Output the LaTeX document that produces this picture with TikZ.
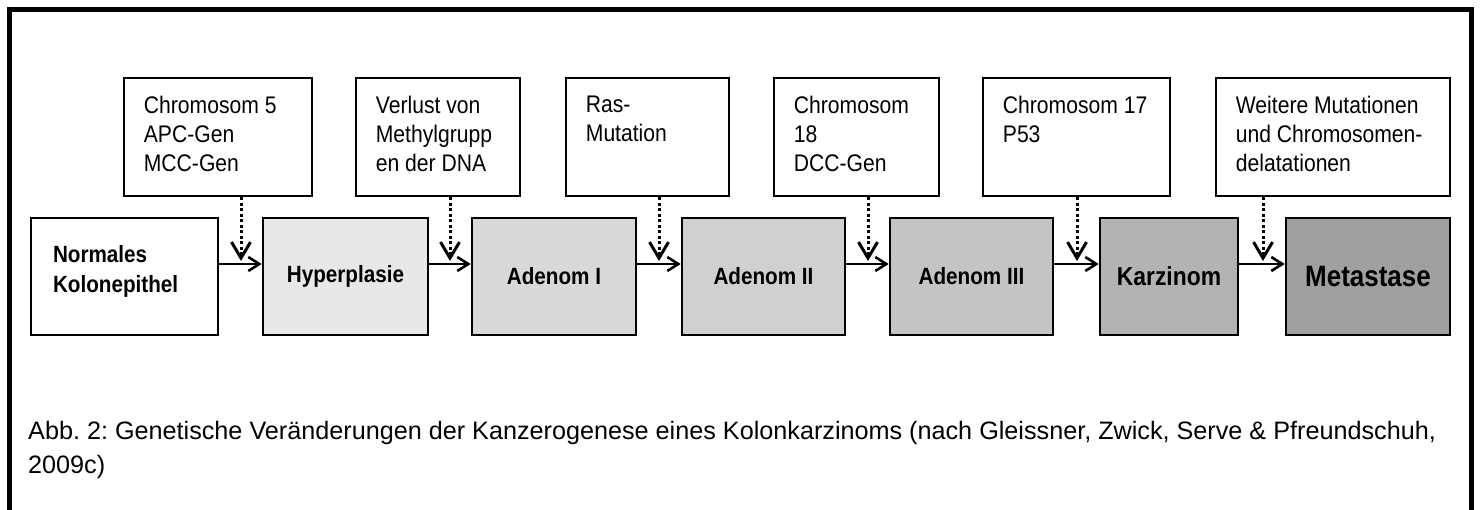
\documentclass[tikz,border=0pt]{standalone}
\usepackage{fontspec}
\setmainfont{Liberation Sans}[FakeStretch=0.88]
\newfontfamily\capfont{Liberation Sans}
\usetikzlibrary{arrows.meta}
\definecolor{fillA}{HTML}{E8E8E8}
\definecolor{fillB}{HTML}{D9D9D9}
\definecolor{fillC}{HTML}{D0D0D0}
\definecolor{fillD}{HTML}{C4C4C4}
\definecolor{fillE}{HTML}{B3B3B3}
\definecolor{fillF}{HTML}{A0A0A0}
\frenchspacing
\begin{document}
\begin{tikzpicture}[x=1pt,y=-1pt,
  stage/.style={draw, line width=2.6pt, minimum height=117pt, inner sep=0pt,
    font=\fontsize{23.5}{30}\selectfont\bfseries, align=center},
  note/.style={draw, line width=2.6pt, minimum height=118pt, inner sep=0pt},
  notetext/.style={anchor=north west, inner sep=0pt, align=left,
    font=\fontsize{24}{29.3}\selectfont},
  flow/.style={line width=2.6pt, -{Straight Barb[length=11pt,width=14pt]}},
  dotflow/.style={line width=3pt, dash pattern=on 3pt off 2.5pt,
    -{Straight Barb[length=16pt,width=19pt]}},
  frame/.style={line width=4.6pt}
]
\useasboundingbox (0,0) rectangle (1480,510);
\draw[frame] (9.5,510) -- (9.5,9.3) -- (1471.5,9.3) -- (1471.5,510);

% stages
\node[stage, fill=white, minimum width=187pt] (n0) at (124.5,276.5)
  {\raisebox{5pt}[\height][\depth]{\parbox{143pt}{\raggedright Normales\\Kolonepithel}}};
\node[stage, fill=fillA, minimum width=165pt] (n1) at (345.5,276.5) {Hyperplasie};
\node[stage, fill=fillB, minimum width=164pt] (n2) at (554,276.5) {Adenom I};
\node[stage, fill=fillC, minimum width=163pt] (n3) at (763.5,276.5) {Adenom II};
\node[stage, fill=fillD, minimum width=163pt] (n4) at (971.5,276.5) {Adenom III};
\node[stage, fill=fillE, minimum width=138pt, font=\fontsize{26}{30}\selectfont\bfseries] (n5) at (1169,276.5) {Karzinom};
\node[stage, fill=fillF, minimum width=164pt, font=\fontsize{29.5}{30}\selectfont\bfseries] (n6) at (1368,276.5) {Metastase};

% notes
\node[note, minimum width=188pt] (t1) at (218,137) {};
\node[note, minimum width=164pt] (t2) at (438,137) {};
\node[note, minimum width=163pt] (t3) at (647.5,137) {};
\node[note, minimum width=165pt] (t4) at (856.5,137) {};
\node[note, minimum width=187pt] (t5) at (1076.5,137) {};
\node[note, minimum width=234pt] (t6) at (1333,137) {};
\node[notetext] (l1) at ([shift={(21,19)}]t1.north west) {Chromosom 5\\APC-Gen\\MCC-Gen};
\node[notetext] (l2) at ([shift={(21,19)}]t2.north west) {Verlust von\\Methylgrupp\\en der DNA};
\node[notetext] (l3) at ([shift={(21,19)}]t3.north west) {Ras-\\Mutation};
\node[notetext] (l4) at ([shift={(21,19)}]t4.north west) {Chromosom\\18\\DCC-Gen};
\node[notetext] (l5) at ([shift={(21,19)}]t5.north west) {Chromosom 17\\P53};
\node[notetext] (l6) at ([shift={(21,19)}]t6.north west) {Weitere Mutationen\\und Chromosomen-\\delatationen};

% meeting points of the dotted arrows
\coordinate (h) at (0,264);
\coordinate (g1) at (241,261);
\coordinate (g2) at (450,261);
\coordinate (g3) at (659,261);
\coordinate (g4) at (868,261);
\coordinate (g5) at (1077,261);
\coordinate (g6) at (1263,261);

\draw[flow] (n0.east |- h) -- (n1.west |- h);
\draw[flow] (n1.east |- h) -- (n2.west |- h);
\draw[flow] (n2.east |- h) -- (n3.west |- h);
\draw[flow] (n3.east |- h) -- (n4.west |- h);
\draw[flow] (n4.east |- h) -- (n5.west |- h);
\draw[flow] (n5.east |- h) -- (n6.west |- h);

\draw[dotflow] (t1.south -| g1) -- (g1);
\draw[dotflow] (t2.south -| g2) -- (g2);
\draw[dotflow] (t3.south -| g3) -- (g3);
\draw[dotflow] (t4.south -| g4) -- (g4);
\draw[dotflow] (t5.south -| g5) -- (g5);
\draw[dotflow] (t6.south -| g6) -- (g6);

\node[anchor=north west, inner sep=0pt, align=left, font=\capfont\fontsize{25.2}{34}\selectfont] (cap) at (28,420.6)
  {Abb. 2: Genetische Veränderungen der Kanzerogenese eines Kolonkarzinoms (nach Gleissner, Zwick, Serve \& Pfreundschuh,\\2009c)};
\end{tikzpicture}
\end{document}
